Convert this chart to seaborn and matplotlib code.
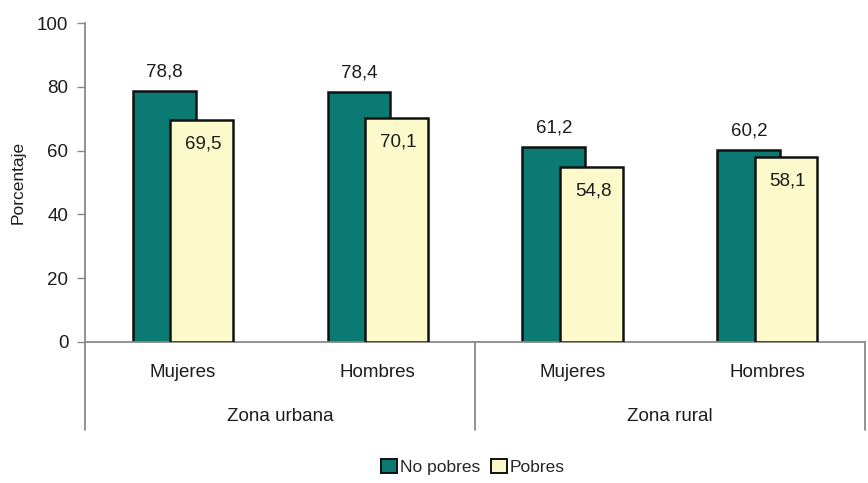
import pandas as pd
import numpy as np
import seaborn as sns
import matplotlib.pyplot as plt
import matplotlib.transforms as mtransforms
from matplotlib.patches import Patch

# data
zonas = ['Zona urbana', 'Zona urbana', 'Zona rural', 'Zona rural']
sexo = ['Mujeres', 'Hombres', 'Mujeres', 'Hombres']
no_pobres = [78.8, 78.4, 61.2, 60.2]
pobres = [69.5, 70.1, 54.8, 58.1]
series = ['No pobres', 'Pobres']
colores = ['#0a7a73', '#fcfacb']

sns.set_theme(style='white')
plt.rcParams['font.family'] = ['Liberation Sans', 'DejaVu Sans']

cats = [f'{z}|{s}' for z, s in zip(zonas, sexo)]
df = pd.DataFrame({
    'cat': cats * 2,
    'serie': [series[0]] * 4 + [series[1]] * 4,
    'valor': no_pobres + pobres,
})

fig = plt.figure(figsize=(8.68, 4.83), dpi=100)
ax = fig.add_axes([0.098, 0.292, 0.8985, 0.66])

sns.barplot(data=df, x='cat', y='valor', hue='serie', order=cats, hue_order=series,
            palette=colores, saturation=1, dodge=True, width=0.5, edgecolor='#111111',
            linewidth=1.8, legend=False, ax=ax)

# overlapping bars: widen and pull the two series together
bar_w = 0.323
shift = 0.095
n = len(cats)
for i, p in enumerate(ax.patches[:2 * n]):
    k = i % n
    s = -1 if i < n else 1
    p.set_width(bar_w)
    p.set_x(k + s * shift - bar_w / 2)
    p.set_zorder(2 + (i >= n))

txt = '#1c1c1c'
fs = 13.5

# value labels
for k in range(n):
    ax.text(k - shift, no_pobres[k] + 3.2, f'{no_pobres[k]:.1f}'.replace('.', ','),
            ha='center', va='bottom', fontsize=fs, color=txt)
    ax.text(k + shift + 0.01, pobres[k] - 4.8, f'{pobres[k]:.1f}'.replace('.', ','),
            ha='center', va='top', fontsize=fs, color=txt, zorder=5)

ax.set_ylim(0, 100)
ax.set_xlim(-0.5, n - 0.5)
ax.set_yticks(range(0, 101, 20))
ax.set_yticklabels([str(v) for v in range(0, 101, 20)], fontsize=fs, color=txt)
ax.set_ylabel('Porcentaje', fontsize=12.5, color=txt, labelpad=8)
ax.set_xlabel('')
ax.set_xticks([])
ax.tick_params(axis='y', left=True, length=6, color='#888888', width=1, pad=6)

for side in ['top', 'right']:
    ax.spines[side].set_visible(False)
for side in ['left', 'bottom']:
    ax.spines[side].set_color('#8a8a8a')
    ax.spines[side].set_linewidth(1.3)

# two-level category axis
trans = mtransforms.blended_transform_factory(ax.transData, ax.transAxes)
for k in range(n):
    ax.text(k, -0.095, sexo[k], transform=trans, ha='center', va='center',
            fontsize=fs, color=txt)
for z, k0 in [('Zona urbana', 0), ('Zona rural', 2)]:
    ax.text(k0 + 0.5, -0.235, z, transform=trans, ha='center', va='center',
            fontsize=fs, color=txt)
for xb in [-0.5, 1.5, n - 0.5]:
    ax.plot([xb, xb], [0, -0.275], transform=trans, color='#8a8a8a', lw=1.3, clip_on=False)

# legend
handles = [Patch(facecolor=c, edgecolor='#111111', linewidth=1.4, label=s) for c, s in zip(colores, series)]
fig.legend(handles=handles, loc='center', bbox_to_anchor=(0.545, 0.033), ncol=2, frameon=False,
           fontsize=12.5, handlelength=0.9, handleheight=0.9, handletextpad=0.2, columnspacing=0.6)

fig.savefig('out.png', dpi=100)
